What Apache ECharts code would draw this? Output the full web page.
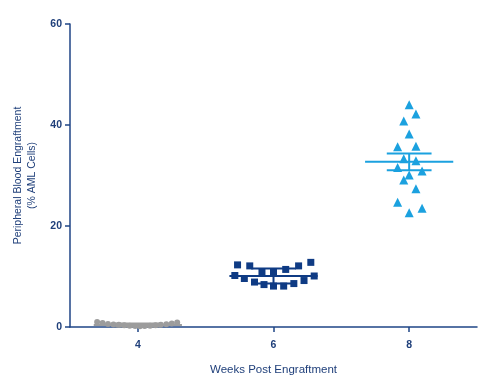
<!DOCTYPE html>
<html><head><meta charset="utf-8">
<script src="https://cdn.jsdelivr.net/npm/echarts@6/dist/echarts.min.js"></script>
<style>html,body{margin:0;padding:0;background:#fff}#c{width:490px;height:392px}</style>
</head><body><div id="c"></div>
<script>
var groups = [4, 6, 8];
var xTicks = [4, 6, 8];
var yTicks = [0, 20, 40, 60];
// week 4 (grey circles): [jittered x, value]
var wk4X = [3.40, 3.48, 3.56, 3.64, 3.72, 3.80, 3.88, 3.96, 4.03, 4.10, 4.18, 4.26, 4.34, 4.42, 4.50, 4.58];
var wk4Y = [1.0, 0.8, 0.6, 0.5, 0.45, 0.35, 0.25, 0.2, 0.15, 0.2, 0.25, 0.35, 0.45, 0.55, 0.7, 0.9];
// week 6 (dark blue squares)
var wk6X = [5.47, 5.65, 5.83, 6.00, 6.18, 6.37, 6.55, 5.43, 5.57, 5.72, 5.86, 6.00, 6.15, 6.30, 6.45, 6.60];
var wk6Y = [12.3, 12.1, 10.9, 10.9, 11.4, 12.1, 12.8, 10.2, 9.6, 8.9, 8.4, 8.1, 8.1, 8.6, 9.2, 10.1];
// week 8 (light blue triangles)
var wk8X = [8.00, 8.10, 7.92, 8.00, 7.83, 8.10, 7.92, 8.10, 7.83, 8.19, 8.00, 7.92, 8.10, 7.83, 8.19, 8.00];
var wk8Y = [44.0, 42.2, 40.8, 38.2, 35.7, 35.8, 33.3, 32.9, 31.6, 30.9, 30.1, 29.1, 27.4, 24.7, 23.5, 22.6];
// mean and error
var means = [0.4, 10.1, 32.7];
var errs = [0.3, 1.5, 1.65];
var colors = ['#9c9c9c', '#0f3b84', '#1ba1df'];

var axisColor = '#1f4586';
var font = '"Liberation Sans",sans-serif';

function pts(xs, ys){ return xs.map(function(x,i){return [x, ys[i]];}); }

var summary = groups.map(function(g,i){ return [g, means[i], errs[i], i]; });

var chart = echarts.init(document.getElementById('c'));
chart.setOption({
  animation: false,
  grid: {left: 70, right: 13, top: 24, bottom: 65},
  xAxis: {
    type: 'value', min: 3, max: 9,
    name: 'Weeks Post Engraftment', nameLocation: 'middle', nameGap: 37,
    nameTextStyle: {color: '#1f3f7a', fontFamily: font, fontSize: 11.5},
    axisLine: {lineStyle: {color: axisColor, width: 1.5}},
    axisTick: {customValues: xTicks, length: 5, lineStyle: {color: axisColor, width: 1.5}},
    axisLabel: {customValues: xTicks, margin: 13, color: '#1f3f7a', fontFamily: font, fontWeight: 'bold', fontSize: 10.5},
    splitLine: {show: false}
  },
  yAxis: {
    type: 'value', min: 0, max: 60, interval: 20,
    name: 'Peripheral Blood Engraftment\n(% AML Cells)', nameLocation: 'middle', nameGap: 28, nameRotate: 90,
    nameTextStyle: {color: '#1f3f7a', fontFamily: font, fontSize: 10.5, lineHeight: 14},
    axisLine: {show: true, lineStyle: {color: axisColor, width: 1.5}},
    axisTick: {show: true, length: 5, lineStyle: {color: axisColor, width: 1.5}},
    axisLabel: {margin: 8, color: '#1f3f7a', fontFamily: font, fontWeight: 'bold', fontSize: 10.5},
    splitLine: {show: false}
  },
  series: [
    {type: 'scatter', data: pts(wk4X, wk4Y), symbol: 'circle', symbolSize: 6, itemStyle: {color: colors[0], opacity: 1}, z: 3},
    {type: 'scatter', data: pts(wk6X, wk6Y), symbol: 'rect', symbolSize: 7, itemStyle: {color: colors[1], opacity: 1}, z: 3},
    {type: 'scatter', data: pts(wk8X, wk8Y), symbol: 'triangle', symbolSize: 9, itemStyle: {color: colors[2], opacity: 1}, z: 3},
    {
      type: 'custom', data: summary, z: 4,
      renderItem: function(params, api){
        var x = api.value(0), m = api.value(1), e = api.value(2), idx = api.value(3);
        var c = colors[idx];
        var ml = api.coord([x - 0.65, m]), mr = api.coord([x + 0.65, m]);
        var top = api.coord([x, m + e]), bot = api.coord([x, m - e]);
        var cl = api.coord([x - 0.33, 0])[0], cr = api.coord([x + 0.33, 0])[0];
        var st = {stroke: c, lineWidth: 2};
        return {type: 'group', children: [
          {type: 'line', shape: {x1: ml[0], y1: ml[1], x2: mr[0], y2: mr[1]}, style: st},
          {type: 'line', shape: {x1: top[0], y1: top[1], x2: bot[0], y2: bot[1]}, style: st},
          {type: 'line', shape: {x1: cl, y1: top[1], x2: cr, y2: top[1]}, style: st},
          {type: 'line', shape: {x1: cl, y1: bot[1], x2: cr, y2: bot[1]}, style: st}
        ]};
      }
    }
  ]
});
</script></body></html>
